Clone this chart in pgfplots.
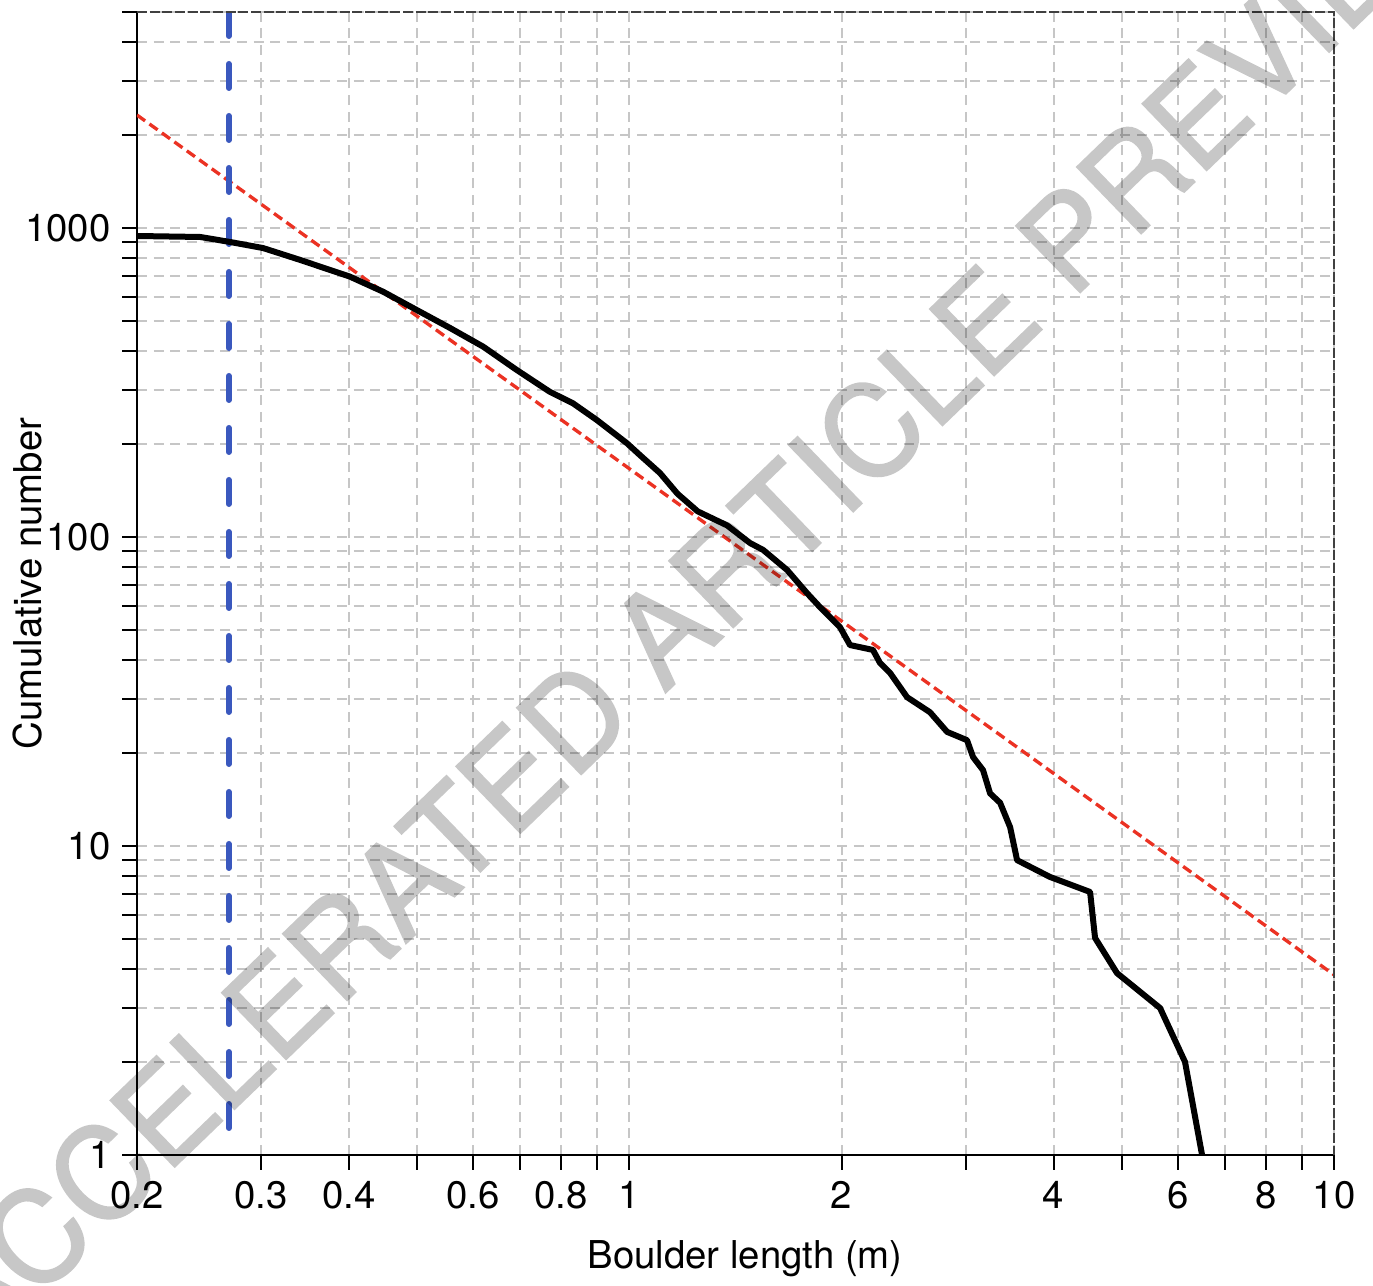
\documentclass[border=0pt]{standalone}
\usepackage{fontspec}
\setmainfont{TeX Gyre Heros}
\newfontfamily\wmfont[FakeBold=1.5]{TeX Gyre Heros}
\usepackage{pgfplots}
\pgfplotsset{compat=1.18}
\definecolor{gridgray}{RGB}{198,198,198}
\definecolor{fitred}{RGB}{235,50,35}
\definecolor{cutblue}{RGB}{58,88,190}
\newcommand{\tl}[1]{\textrm{#1}}
\begin{document}
\begin{tikzpicture}
\begin{loglogaxis}[
  scale only axis, width=359.1pt, height=342.9pt,
  xmin=0.2, xmax=10, ymin=1, ymax=5000,
  axis x line*=bottom, axis y line*=left,
  axis line style={line width=0.6pt, black, -},
  tick align=outside,
  major tick length=4.5pt, minor tick length=4.5pt,
  every tick/.style={line width=0.6pt, black},
  xtick={0.2,0.3,0.4,0.5,0.6,0.7,0.8,0.9,1,2,3,4,5,6,7,8,9,10},
  xticklabels={\tl{0.2},\tl{0.3},\tl{0.4},,\tl{0.6},,\tl{0.8},,\tl{1},\tl{2},,\tl{4},,\tl{6},,\tl{8},,\tl{10}},
  minor xtick={},
  ytick={1,10,100,1000},
  yticklabels={\tl{1},\tl{10},\tl{100},\tl{1000}},
  minor ytick={2,3,4,5,6,7,8,9,20,30,40,50,60,70,80,90,200,300,400,500,600,700,800,900,2000,3000,4000,5000},
  xmajorgrids, ymajorgrids, yminorgrids,
  major grid style={gridgray, line width=0.6pt, dash pattern=on 3pt off 2pt},
  minor grid style={gridgray, line width=0.6pt, dash pattern=on 3pt off 2pt},
  tick label style={font=\fontsize{11.5}{13}\selectfont},
  /pgf/number format/assume math mode=true,
  label style={font=\fontsize{11.5}{13}\selectfont},
  xlabel={Boulder length (m)}, ylabel={Cumulative number},
  xlabel style={at={(axis description cs:0.508,-0.0904)}, anchor=center},
  ylabel style={at={(axis description cs:-0.0911,0.5)}, anchor=center},
]
\addplot[fitred, line width=1pt, dash pattern=on 3pt off 1.6pt] coordinates {(0.2,2320) (10,3.83)};
\addplot[cutblue, line width=1.8pt, line cap=round, dash pattern=on 7.2pt off 8.4pt] coordinates {(0.27,5000) (0.27,1)};
\addplot[black, line width=1.8pt, line join=round] coordinates {
(0.2,942) (0.246,935) (0.271,901) (0.302,861) (0.341,788) (0.401,696) (0.447,622) (0.504,536) (0.556,475) (0.620,413) (0.692,347) (0.771,295) (0.831,271) (0.899,239) (0.992,201) (1.035,184) (1.105,161) (1.17,138) (1.25,121) (1.376,109) (1.483,95.6) (1.548,90.8) (1.674,78.2) (1.786,65.9) (1.864,59.3) (1.990,51.1) (2.056,44.7) (2.216,43.1) (2.268,39.1) (2.344,36.3) (2.478,30.3) (2.670,27.1) (2.824,23.4) (3.014,22.0) (3.074,19.4) (3.176,17.6) (3.250,14.8) (3.358,13.8) (3.470,11.5) (3.550,9.0) (3.954,7.94) (4.506,7.1) (4.580,5.04) (4.92,3.88) (5.664,2.99) (6.146,2.0) (6.498,1.0)
};
\coordinate (sw) at (rel axis cs:0,0);
\coordinate (ne) at (rel axis cs:1,1);
\coordinate (wm) at (axis cs:1.27,66);
\end{loglogaxis}
\draw[black!75, line width=0.5pt, dash pattern=on 3pt off 0.8pt] (sw|-ne) -- (ne) -- (ne|-sw);
\begin{scope}
\clip ([xshift=-41.1pt,yshift=-39pt]sw) rectangle ([xshift=11.7pt,yshift=3.6pt]ne);
\begin{scope}[transparency group, opacity=0.22]
\node[rotate=44, text=black, font=\wmfont\fontsize{38}{38}\selectfont] at (wm) {ACCELERATED ARTICLE PREVIEW};
\end{scope}
\end{scope}
\pgfresetboundingbox
\path[use as bounding box] ([xshift=-41.1pt,yshift=-39pt]sw) rectangle ([xshift=11.7pt,yshift=3.6pt]ne);
\end{tikzpicture}
\end{document}
